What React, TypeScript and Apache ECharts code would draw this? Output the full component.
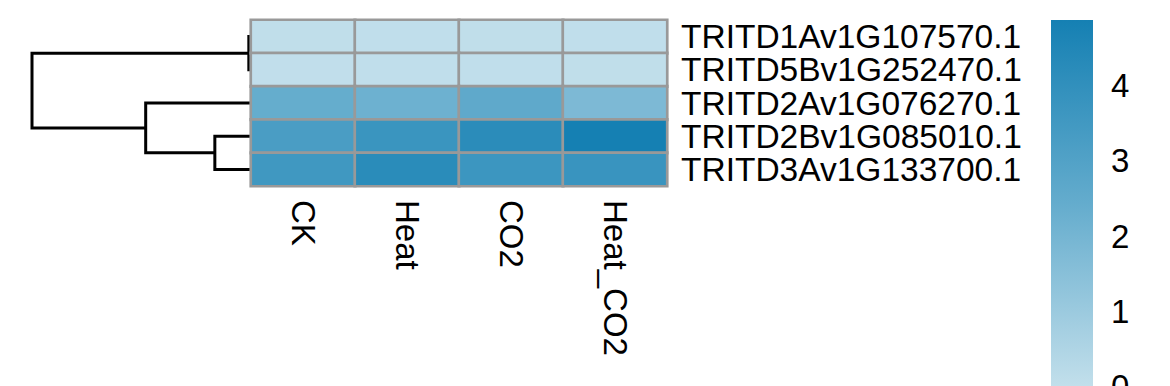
import React, { useEffect, useRef } from "react";
import * as echarts from "echarts";

const columns = ["CK", "Heat", "CO2", "Heat_CO2"];
const rows = [
  "TRITD1Av1G107570.1",
  "TRITD5Bv1G252470.1",
  "TRITD2Av1G076270.1",
  "TRITD2Bv1G085010.1",
  "TRITD3Av1G133700.1",
];
// values per row, in column order
const row1 = [0.05, 0.04, 0.05, 0.04];
const row2 = [0.03, 0.04, 0.04, 0.05];
const row3 = [2.4, 2.2, 2.6, 1.8];
const row4 = [3.24, 3.73, 4.19, 4.87];
const row5 = [3.54, 4.22, 3.67, 3.76];
const values = [row1, row2, row3, row4, row5];

const scaleMin = 0;
const scaleMax = 4.87;
const colorTicks = [0, 1, 2, 3, 4];
const palette = ["#c2dfeb", "#64accd", "#1580b3"]; // low -> high

// dendrogram merges: [left member, right member, height]; members: leaf index or "m<k>"
const merges: [string | number, string | number, number][] = [
  [0, 1, 0.05],
  [3, 4, 1.5],
  [2, "m1", 4.45],
  ["m0", "m2", 9.3],
];
const rootHeight = 9.3;

function buildDendro() {
  const pos: { y: number; h: number }[] = [];
  const get = (m: string | number) =>
    typeof m === "number" ? { y: m + 0.5, h: 0 } : pos[parseInt(m.slice(1), 10)];
  const out: number[][] = [];
  merges.forEach(([a, b, h]) => {
    const A = get(a);
    const B = get(b);
    out.push([A.h, A.y, B.h, B.y, h]);
    pos.push({ y: (A.y + B.y) / 2, h });
  });
  return out;
}

const FONT = "'Liberation Sans', Arial, sans-serif";

export default function App() {
  const ref = useRef<HTMLDivElement>(null);
  useEffect(() => {
    document.body.style.margin = "0";
    const chart = echarts.init(ref.current!, null, { renderer: "svg" });
    const heatData: number[][] = [];
    values.forEach((r, ri) => r.forEach((v, ci) => heatData.push([ci, ri, v])));
    const dendro = buildDendro();
    const stops = palette
      .slice()
      .reverse()
      .map((c, i) => ({ offset: i / (palette.length - 1), color: c }));

    chart.setOption({
      animation: false,
      grid: [
        { left: 251, top: 20, width: 416, height: 166, outerBoundsMode: "none", containLabel: false },
        { left: 32, top: 20, width: 218, height: 166, outerBoundsMode: "none", containLabel: false },
        { left: 1051, top: 20, width: 42, height: 366.6, outerBoundsMode: "none", containLabel: false },
      ],
      xAxis: [
        {
          type: "category",
          gridIndex: 0,
          data: columns,
          position: "bottom",
          axisLine: { show: false },
          axisTick: { show: false },
          splitLine: { show: false },
          axisLabel: {
            interval: 0,
            rotate: -90,
            fontSize: 33,
            color: "#000",
            fontFamily: FONT,
            margin: 14,
          },
        },
        { type: "value", gridIndex: 1, min: 0, max: rootHeight, inverse: true, show: false },
        { type: "category", gridIndex: 2, data: ["scale"], show: false },
      ],
      yAxis: [
        {
          type: "category",
          gridIndex: 0,
          data: rows,
          inverse: true,
          position: "right",
          axisLine: { show: false },
          axisTick: { show: false },
          splitLine: { show: false },
          axisLabel: {
            interval: 0,
            fontSize: 33.5,
            lineHeight: 30,
            color: "#000",
            fontFamily: FONT,
            margin: 14,
          },
        },
        { type: "value", gridIndex: 1, min: 0, max: rows.length, inverse: true, show: false },
        {
          type: "value",
          gridIndex: 2,
          min: scaleMin,
          max: scaleMax,
          interval: 1,
          position: "right",
          axisLine: { show: false },
          axisTick: { show: false },
          splitLine: { show: false },
          axisLabel: {
            fontSize: 33,
            color: "#000",
            fontFamily: FONT,
            margin: 18,
            showMaxLabel: false,
            formatter: (v: number) => (colorTicks.includes(v) ? String(v) : ""),
          },
        },
      ],
      visualMap: {
        show: false,
        seriesIndex: 1,
        min: scaleMin,
        max: scaleMax,
        inRange: { color: palette },
      },
      series: [
        {
          type: "custom",
          xAxisIndex: 1,
          yAxisIndex: 1,
          data: dendro,
          encode: { x: [0, 2, 4], y: [1, 3] },
          renderItem: (_p: any, api: any) => {
            const hL = api.value(0), yL = api.value(1), hR = api.value(2), yR = api.value(3), h = api.value(4);
            const p1 = api.coord([hL, yL]);
            const p2 = api.coord([h, yL]);
            const p3 = api.coord([h, yR]);
            const p4 = api.coord([hR, yR]);
            return {
              type: "polyline",
              shape: { points: [p1, p2, p3, p4] },
              style: { stroke: "#000", lineWidth: 3, fill: "none" },
            };
          },
        },
        {
          type: "heatmap",
          xAxisIndex: 0,
          yAxisIndex: 0,
          data: heatData,
          itemStyle: { borderColor: "#999999", borderWidth: 2.7 },
        },
        {
          type: "bar",
          xAxisIndex: 2,
          yAxisIndex: 2,
          data: [scaleMax],
          barWidth: "100%",
          itemStyle: { color: new echarts.graphic.LinearGradient(0, 0, 0, 1, stops) },
        },
      ],
    });
    return () => chart.dispose();
  }, []);
  return <div ref={ref} style={{ width: 1170, height: 386 }} />;
}
